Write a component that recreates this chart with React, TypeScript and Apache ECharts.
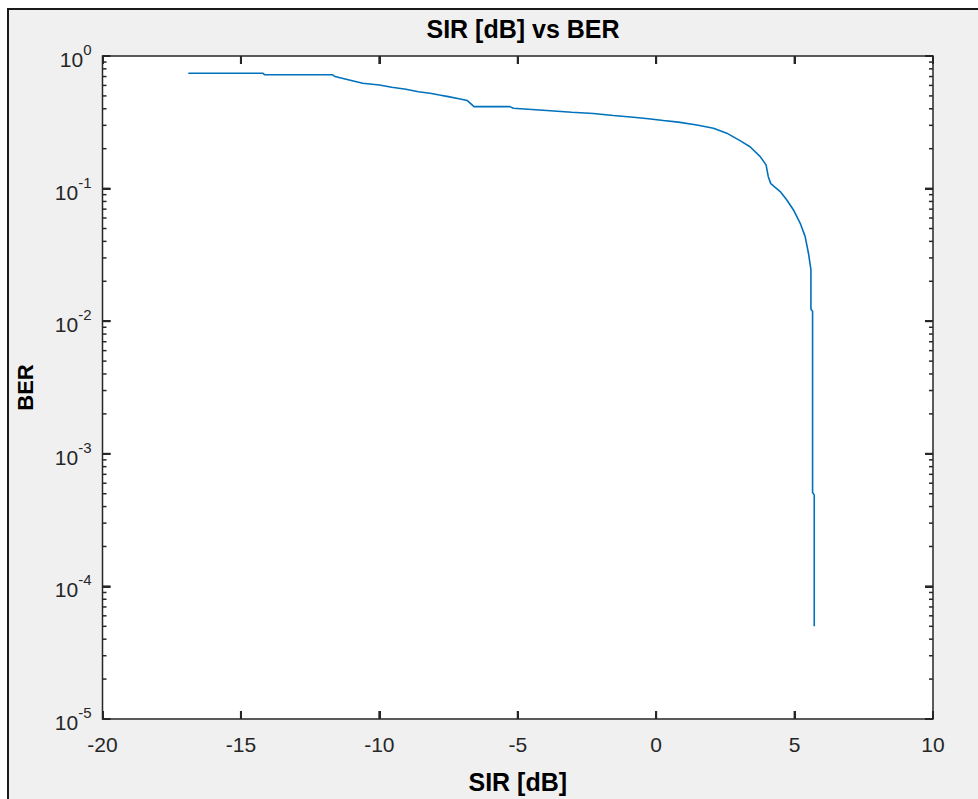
import React, { useEffect, useRef } from "react";
import * as echarts from "echarts";

// SIR [dB] values (x) and BER values (y)
const sirDb = [
  -16.9, -14.2, -14.15, -11.7, -11.6, -11.2, -10.6, -10.0, -9.55, -9.04, -8.59,
  -8.17, -7.83, -7.51, -7.08, -6.82, -6.58, -5.28, -5.16, -4.08, -3.05, -2.27,
  -1.55, -0.82, -0.28, 0.26, 0.8, 1.47, 2.07, 2.55, 3.03, 3.39, 3.75, 3.97,
  4.05, 4.14, 4.48, 4.72, 4.96, 5.2, 5.38, 5.5, 5.59, 5.59, 5.65, 5.65, 5.71,
  5.71,
];
const ber = [
  0.741, 0.741, 0.723, 0.723, 0.7, 0.668, 0.623, 0.605, 0.581, 0.561, 0.538,
  0.524, 0.508, 0.494, 0.474, 0.461, 0.415, 0.415, 0.404, 0.39, 0.377, 0.368,
  0.356, 0.345, 0.336, 0.326, 0.317, 0.302, 0.285, 0.262, 0.23, 0.207, 0.175,
  0.151, 0.123, 0.109, 0.095, 0.082, 0.069, 0.055, 0.0436, 0.0327, 0.0245,
  0.0123, 0.0119, 0.00051, 0.00049, 0.00005,
];

const xMin = -20;
const xMax = 10;
const xInterval = 5;
const xMajorTicks = [-15, -10, -5, 0, 5];
const yMin = 1e-5;
const yMax = 1;
const yMajorTicks = [1e-4, 1e-3, 1e-2, 1e-1];
const decadeExponents = [-5, -4, -3, -2, -1];
const minorMultipliers = [2, 3, 4, 5, 6, 7, 8, 9];

const titleText = "SIR [dB] vs BER";
const xName = "SIR [dB]";
const yName = "BER";

const FONT = "'Liberation Sans', Arial, Helvetica, sans-serif";
const AX = "#262626";

export default function App() {
  const ref = useRef<HTMLDivElement>(null);

  useEffect(() => {
    if (!ref.current) return;
    const chart = echarts.init(ref.current, undefined, { renderer: "svg" });

    const lineData = sirDb.map((x, i) => [x, ber[i]]);
    const yMinorVals: number[] = [];
    decadeExponents.forEach((e) =>
      minorMultipliers.forEach((m) => yMinorVals.push(m * Math.pow(10, e)))
    );

    // one tick series per side; dx, dy = direction of the tick into the plot
    const tickSeries = (data: number[][], dx: number, dy: number, lw: number) => ({
      type: "custom",
      coordinateSystem: "cartesian2d",
      xAxisIndex: 0,
      yAxisIndex: 0,
      silent: true,
      clip: false,
      zlevel: 1,
      z: 6,
      data,
      renderItem: (params: any, api: any) => {
        const p = api.coord([api.value(0), api.value(1)]);
        return {
          type: "line",
          shape: { x1: p[0], y1: p[1], x2: p[0] + dx, y2: p[1] + dy },
          style: { stroke: AX, lineWidth: lw, fill: null },
        };
      },
    });

    const frameSeries = {
      type: "custom",
      coordinateSystem: "cartesian2d",
      xAxisIndex: 0,
      yAxisIndex: 0,
      silent: true,
      clip: false,
      z: 1,
      data: [[xMin, yMax, xMax, yMin]],
      renderItem: (params: any, api: any) => {
        const a = api.coord([api.value(0), api.value(1)]);
        const b = api.coord([api.value(2), api.value(3)]);
        return {
          type: "rect",
          shape: { x: a[0], y: a[1], width: b[0] - a[0], height: b[1] - a[1] },
          style: { fill: "#ffffff", stroke: AX, lineWidth: 1.5 },
        };
      },
    };

    const logLabel = (v: number) => {
      const e = Math.round(Math.log10(v));
      return `{b|10}{s|${e}}`;
    };

    const richLabel = {
      b: { fontSize: 21, color: AX, fontFamily: FONT, verticalAlign: "bottom", lineHeight: 28 },
      s: { fontSize: 15, color: AX, fontFamily: FONT, verticalAlign: "top", lineHeight: 28 },
    };

    const axisLine = { show: false, onZero: false };
    const axisTick = { show: true, inside: true, length: 8, lineStyle: { color: AX, width: 2 } };

    const option: any = {
      animation: false,
      backgroundColor: "transparent",
      textStyle: { fontFamily: FONT },
      title: {
        text: titleText,
        left: 518,
        top: 11,
        textAlign: "center",
        textStyle: { fontSize: 25, fontWeight: "bold", color: "#000", fontFamily: FONT },
      },
      grid: {
        left: 102.5,
        right: 45,
        top: 56,
        bottom: 79,
        show: false,
      },
      xAxis: [
        {
          type: "value",
          min: xMin,
          max: xMax,
          interval: xInterval,
          z: 10,
          zlevel: 1,
          name: xName,
          nameLocation: "middle",
          nameGap: 50,
          nameTextStyle: { fontSize: 25, fontWeight: "bold", color: "#000", fontFamily: FONT },
          axisLine,
          axisTick,
          axisLabel: { color: AX, fontSize: 21, margin: 15, fontFamily: FONT },
          splitLine: { show: false },
        },
        {
          type: "value",
          position: "top",
          min: xMin,
          max: xMax,
          interval: xInterval,
          z: 10,
          zlevel: 1,
          axisLine,
          axisTick,
          axisLabel: { show: false },
          splitLine: { show: false },
        },
      ],
      yAxis: [
        {
          type: "log",
          logBase: 10,
          min: yMin,
          max: yMax,
          z: 10,
          zlevel: 1,
          name: yName,
          nameLocation: "middle",
          nameGap: 66,
          nameRotate: 90,
          nameTextStyle: { fontSize: 22, fontWeight: "bold", color: "#000", fontFamily: FONT },
          axisLine,
          axisTick,
          axisLabel: { formatter: logLabel, rich: richLabel, margin: 11 },
          splitLine: { show: false },
        },
        {
          type: "log",
          logBase: 10,
          position: "right",
          min: yMin,
          max: yMax,
          z: 10,
          zlevel: 1,
          axisLine,
          axisTick,
          axisLabel: { show: false },
          splitLine: { show: false },
        },
      ],
      series: [
        frameSeries,
        tickSeries(yMinorVals.map((v) => [xMin, v]), 4, 0, 1.5),
        tickSeries(yMinorVals.map((v) => [xMax, v]), -4, 0, 1.5),
        tickSeries(yMajorTicks.map((v) => [xMin, v]), 8, 0, 2),
        tickSeries(yMajorTicks.map((v) => [xMax, v]), -8, 0, 2),
        tickSeries(xMajorTicks.map((x) => [x, yMin]), 0, -8, 2),
        tickSeries(xMajorTicks.map((x) => [x, yMax]), 0, 8, 2),
        {
          type: "line",
          xAxisIndex: 0,
          yAxisIndex: 0,
          data: lineData,
          showSymbol: false,
          symbol: "none",
          lineStyle: { color: "#0072BD", width: 1.6 },
          z: 4,
        },
      ],
    };

    chart.setOption(option);
    return () => chart.dispose();
  }, []);

  return (
    <div style={{ position: "fixed", left: 0, top: 0, width: 978, height: 799, background: "#ffffff" }}>
      <div
        style={{
          position: "absolute",
          left: 7,
          top: 8,
          width: 971,
          height: 791,
          boxSizing: "border-box",
          background: "#f0f0f0",
          borderLeft: "2px solid #1a1a1a",
          borderTop: "2px solid #1a1a1a",
        }}
      />
      <div ref={ref} style={{ position: "absolute", left: 0, top: 0, width: 978, height: 799 }} />
    </div>
  );
}
